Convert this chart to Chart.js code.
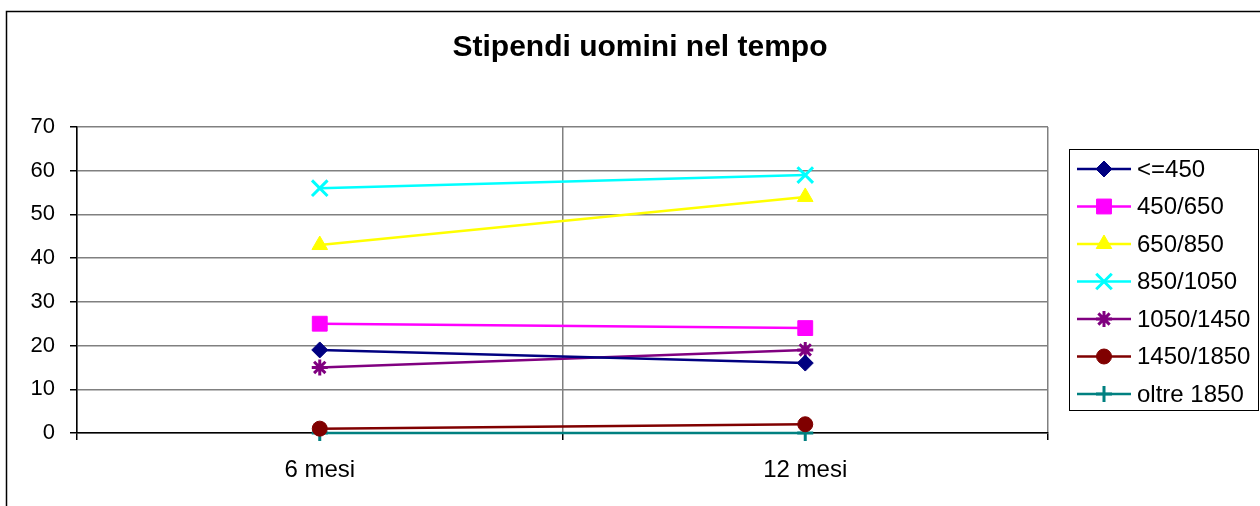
<!DOCTYPE html>
<html>
<head>
<meta charset="utf-8">
<script src="https://cdn.jsdelivr.net/npm/chart.js@4/dist/chart.umd.min.js"></script>
<style>
  html, body { margin: 0; padding: 0; background: #fff; }
  #wrap { width: 1260px; height: 506px; }
</style>
</head>
<body>
<div id="wrap"><canvas id="chart" width="1260" height="506"></canvas></div>
<script>
const chartTitle = 'Stipendi uomini nel tempo';
const periods = ['6 mesi', '12 mesi'];
const yTicks = [0, 10, 20, 30, 40, 50, 60, 70];

const seriesNames = ['<=450', '450/650', '650/850', '850/1050', '1050/1450', '1450/1850', 'oltre 1850'];
const le450 = [19, 16];
const s450to650 = [25, 24];
const s650to850 = [43, 54];
const s850to1050 = [56, 59];
const s1050to1450 = [15, 19];
const s1450to1850 = [1, 2];
const over1850 = [0, 0];

const seriesValues = [le450, s450to650, s650to850, s850to1050, s1050to1450, s1450to1850, over1850];
const seriesColors = ['#000080', '#FF00FF', '#FFFF00', '#00FFFF', '#800080', '#800000', '#008080'];
const seriesMarkers = ['rectRot', 'rect', 'triangle', 'crossRot', 'star', 'circle', 'cross'];
const markerSizes = [8, 10.5, 9, 11, 8, 7.5, 8];

const FONT = '"Liberation Sans", Arial, sans-serif';

const datasets = seriesNames.map((name, i) => {
  const lineMarker = ['crossRot', 'star', 'cross'].includes(seriesMarkers[i]);
  return {
    label: name,
    data: seriesValues[i],
    borderColor: seriesColors[i],
    backgroundColor: seriesColors[i],
    borderWidth: 2.5,
    pointStyle: seriesMarkers[i],
    pointRadius: markerSizes[i],
    pointBorderWidth: lineMarker ? 3 : 1,
    pointBorderColor: seriesColors[i],
    pointBackgroundColor: seriesColors[i],
    tension: 0,
    fill: false,
    clip: false
  };
});

// frame, title and the Excel-style legend box
const decor = {
  id: 'decor',
  beforeDraw(chart) {
    const c = chart.ctx;
    c.save();
    c.fillStyle = '#fff';
    c.fillRect(0, 0, chart.width, chart.height);
    c.strokeStyle = '#000';
    c.lineWidth = 1.5;
    c.beginPath();
    c.moveTo(6.5, chart.height);
    c.lineTo(6.5, 11.5);
    c.lineTo(chart.width, 11.5);
    c.stroke();
    c.fillStyle = '#000';
    c.font = 'bold 30px ' + FONT;
    c.textAlign = 'center';
    c.textBaseline = 'middle';
    c.fillText(chartTitle, 640, 48);
    c.restore();
  },
  afterDraw(chart) {
    const c = chart.ctx;
    const h = Chart.helpers;
    c.save();
    c.strokeStyle = '#000';
    c.lineWidth = 1;
    c.strokeRect(1069.5, 149.5, 189, 261);
    c.font = '24px ' + FONT;
    c.textBaseline = 'middle';
    c.textAlign = 'left';
    chart.data.datasets.forEach((ds, i) => {
      const y = 169 + i * 37.5;
      c.strokeStyle = ds.borderColor;
      c.lineWidth = 2.5;
      c.beginPath();
      c.moveTo(1077, y);
      c.lineTo(1131, y);
      c.stroke();
      c.fillStyle = ds.pointBackgroundColor;
      c.strokeStyle = ds.pointBorderColor;
      c.lineWidth = ds.pointBorderWidth;
      if (h && h.drawPoint) {
        h.drawPoint(c, { pointStyle: ds.pointStyle, radius: ds.pointRadius, borderWidth: ds.pointBorderWidth, rotation: 0 }, 1104, y);
      }
      c.fillStyle = '#000';
      c.fillText(ds.label, 1137, y + 1);
    });
    c.restore();
  }
};

new Chart(document.getElementById('chart'), {
  type: 'line',
  data: { labels: periods, datasets },
  options: {
    responsive: false,
    animation: false,
    layout: { padding: { left: 0, top: 127, right: 212, bottom: 0 } },
    plugins: {
      legend: { display: false },
      title: { display: false },
      tooltip: { enabled: false }
    },
    scales: {
      x: {
        offset: true,
        grid: { offset: true, color: '#808080', lineWidth: 1.5, tickColor: '#000', tickLength: 7 },
        border: { color: '#000', width: 1.5 },
        ticks: { color: '#000', font: { size: 24, family: FONT }, padding: 16, maxRotation: 0 },
        afterFit(scale) { scale.height = 73; }
      },
      y: {
        min: yTicks[0],
        max: yTicks[yTicks.length - 1],
        afterBuildTicks(scale) { scale.ticks = yTicks.map(v => ({ value: v })); },
        grid: { color: '#808080', lineWidth: 1.5, tickColor: '#000', tickLength: 7 },
        border: { color: '#000', width: 1.5 },
        ticks: { color: '#000', font: { size: 22, family: FONT }, padding: 15 },
        afterFit(scale) { scale.width = 77; }
      }
    }
  },
  plugins: [decor]
});
</script>
</body>
</html>
